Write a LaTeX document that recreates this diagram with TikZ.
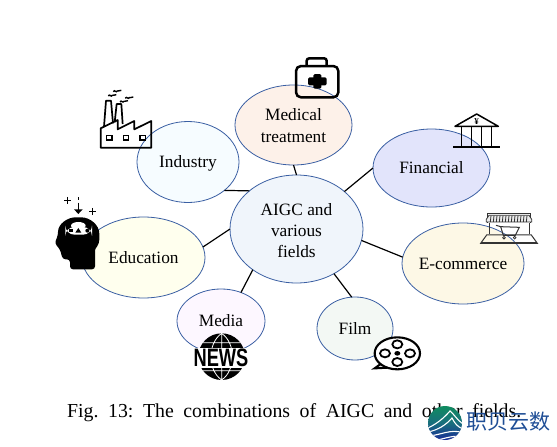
\documentclass[tikz,border=0pt]{standalone}
\usepackage{fontspec}
\setmainfont{Liberation Serif}
\newfontfamily\cjkfont{Noto Sans CJK SC}
\newfontfamily\newsfont{Liberation Sans}
\usetikzlibrary{shapes.geometric}
\definecolor{ringblue}{HTML}{3A5FA3}
\definecolor{logoblue}{HTML}{1F4E96}
\newcommand{\lb}{\rule[-3pt]{0pt}{17pt}}
\tikzset{
  bubble/.style={ellipse,draw=ringblue,line width=0.8pt,inner sep=-4pt,outer sep=0pt,align=center,
    font=\fontsize{17.3}{21}\selectfont},
  link/.style={line width=1.2pt,black},
  icon/.style={line width=1.7pt,black,line join=round},
  thinicon/.style={line width=0.8pt,black!80},
}
\begin{document}
\frenchspacing
\begin{tikzpicture}[x=1pt,y=-1pt]
\useasboundingbox (0,0) rectangle (557,447);
\fill[white] (0,0) rectangle (557,447);
% bubbles
\node[bubble,minimum width=117pt,minimum height=80pt,fill={rgb,255:red,253;green,241;blue,233}] (medical) at (293.5,125) {\rule{0pt}{14pt}Medical\\[1pt]treatment};
\node[bubble,fill={rgb,255:red,246;green,252;blue,255},minimum width=102pt,minimum height=81pt] (industry) at (188,162) {\lb Industry};
\node[bubble,fill={rgb,255:red,255;green,255;blue,238},minimum width=123pt,minimum height=81pt] (education) at (143.5,257.5) {\lb Education};
\node[bubble,fill={rgb,255:red,240;green,245;blue,251},minimum width=133pt,minimum height=108pt] (aigc) at (296.5,229) {\rule{0pt}{16pt}AIGC and\\various\\fields};
\node[bubble,fill={rgb,255:red,226;green,228;blue,251},minimum width=117pt,minimum height=78pt] (financial) at (431.5,168) {\lb Financial};
\node[bubble,fill={rgb,255:red,253;green,248;blue,230},minimum width=122pt,minimum height=81pt] (ecommerce) at (463,263.5) {\lb E-commerce};
\node[bubble,fill={rgb,255:red,253;green,247;blue,255},minimum width=88pt,minimum height=64pt] (media) at (221,321) {\lb Media};
\node[bubble,fill={rgb,255:red,243;green,248;blue,244},minimum width=76pt,minimum height=63pt] (film) at (355,328.5) {\lb Film};
% connectors
\draw[link] (industry.-38) -- (aigc.141.7);
\draw[link] (education.10) -- (aigc.180);
\draw[link] (medical.270) -- (aigc.90);
\draw[link] (financial.180) -- (aigc.38.6);
\draw[link] (ecommerce.174) -- (aigc.-10);
\draw[link] (media.55.9) -- (aigc.223.8);
\draw[link] (film.96) -- (aigc.-50);
% factory
\begin{scope}[shift={(50,40)},scale=1/3]
\draw[icon] (152,323) -- (152,265) -- (203,240) -- (203,268) -- (253,243) -- (253,268) -- (304,243) -- (304,323) -- cycle;
\draw[icon] (162,260) -- (168,182) -- (183,182) -- (189,250);
\draw[icon] (194,247) -- (200,192) -- (214,192) -- (218,252);
\foreach \wx in {170,220,270} \draw[line width=1.1pt] (\wx,286) rectangle ++(16,14);
\foreach \sx/\sy in {175/168,190/155,210/186,226/175}
  \draw[line width=1.4pt] (\sx,\sy) .. controls (\sx+4,\sy-8) and (\sx+8,\sy+5) .. (\sx+12,\sy-2) .. controls (\sx+15,\sy-8) and (\sx+19,\sy+3) .. (\sx+24,\sy-4);
\end{scope}
% head
\begin{scope}[shift={(50,40)},scale=1/3]
\fill[black,rounded corners=3pt] (60,688) -- (60,658) -- (38,658) -- (30,628) -- (14,610) -- (24,585)
  .. controls (24,550) and (55,532) .. (85,532) .. controls (120,532) and (148,555) .. (148,590)
  .. controls (148,615) and (135,625) .. (135,640) -- (135,688) -- cycle;
\fill[white,rounded corners=9pt] (46,561) rectangle (126,584);
\fill[white] (85,557) ellipse (22 and 11);
\fill[black] (56,566) rectangle (68,577);
\fill[black] (76,578) -- (85,564) -- (94,578) -- cycle;
\fill[black] (112,572) circle (6);
\draw[line width=1.6pt] (42,481) -- (62,481) (52,471) -- (52,491);
\draw[line width=1.6pt] (117,514) -- (137,514) (127,504) -- (127,524);
\draw[line width=1.6pt] (85,472) -- (85,480) (85,488) -- (85,512);
\fill[black] (72,508) -- (98,508) -- (85,522) -- cycle;
\end{scope}
% medical kit, bank and laptop
\begin{scope}[shift={(290,50)},scale=1/3]
\draw[line width=2.5pt,rounded corners=5pt] (18,48) rectangle (145,142);
\draw[line width=2.5pt,rounded corners=2.5pt] (50,48) -- (50,25) -- (110,25) -- (110,48);
\fill[black,rounded corners=1.5pt] (70,72) rectangle (94,116);
\fill[black,rounded corners=1.5pt] (54,82) rectangle (110,106);
% bank
\draw[line width=1.5pt,line join=round] (495,229) -- (560,192) -- (625,229) -- cycle;
\foreach \cx in {515,545,575,605} \draw[line width=1.5pt] (\cx,232) -- (\cx,291);
\draw[line width=1.5pt] (490,291) -- (630,291);
\node[font=\bfseries\fontsize{9}{9}\selectfont,inner sep=0pt] (yen) at (560,214) {¥};
% laptop
\draw[thinicon] (592,518) -- (592,490) -- (722,490) -- (722,518);
\draw[thinicon] (597,552) -- (597,518) (717,552) -- (717,518);
\draw[thinicon,fill=black!8] (589,508) -- (597,496) -- (717,496) -- (725,508) -- (725,516) -- (589,516) -- cycle;
\foreach \ax in {603,612,...,711} \draw[thinicon] (\ax,497) -- (\ax-2,516);
\draw[thinicon,line width=1pt] (572,580) -- (590,555) -- (724,555) -- (742,580) -- cycle;
\draw[thinicon,line width=1pt] (572,578) -- (742,578);
\draw[thinicon,line width=1pt] (618,526) -- (632,530) -- (640,556) -- (676,556) -- (688,532) -- (632,530);
\draw[thinicon] (642,563) circle (4) (674,563) circle (4);
\end{scope}
% news globe and film reel
\begin{scope}[shift={(170,280)},scale=1/3]
\fill[black] (155,230) circle (70);
\draw[white,line width=0.8pt] (155,160) -- (155,300)
  (155,160) .. controls (112,190) and (112,270) .. (155,300)
  (155,160) .. controls (198,190) and (198,270) .. (155,300)
  (98,188) -- (212,188) (98,272) -- (212,272);
\fill[white] (72,203) rectangle (235,264);
\node[inner sep=0pt,font=\newsfont\bfseries\fontsize{24}{24}\selectfont] (news) at (153,233) {\scalebox{0.76}[1.05]{NEWS}};
% reel
\draw[line width=2.1pt,fill=white] (682,220) ellipse (68 and 48);
\draw[line width=2.1pt] (632,252) -- (614,265) -- (652,263);
\draw[line width=1.8pt] (682,193) ellipse (15 and 12);
\draw[line width=1.8pt] (682,246) ellipse (15 and 12);
\draw[line width=1.8pt] (645,220) ellipse (15 and 12);
\draw[line width=1.8pt] (720,220) ellipse (15 and 12);
\fill[black] (682,220) ellipse (9 and 7);
\end{scope}
% caption
\node[anchor=base west,inner sep=0pt,font=\fontsize{19.8}{22}\selectfont] (caption) at (67,417) {\makebox[454pt][s]{Fig. 13: The combinations of AIGC and other fields.}};
% watermark
\shade[top color={rgb,255:red,15;green,140;blue,95},bottom color={rgb,255:red,25;green,45;blue,150},middle color={rgb,255:red,25;green,110;blue,125}] (445,423) circle (17);
\begin{scope}
\clip (445,423) circle (17);
\draw[white,line width=1.1pt] (428,428) .. controls (436,424) and (442,420) .. (450,411) .. controls (454,414) and (457,420) .. (463,424);
\draw[white,line width=1.1pt] (428,432) .. controls (438,430) and (446,425) .. (452,418) .. controls (455,424) and (458,427) .. (463,429);
\draw[white,line width=1.1pt] (428,436) .. controls (438,436) and (452,428) .. (463,433);
\draw[white,line width=1.1pt] (430,441) .. controls (440,441) and (452,434) .. (463,437);
\end{scope}
\node[anchor=west,inner sep=0pt,text=logoblue,font=\cjkfont\fontsize{21}{21}\selectfont] (logotext) at (466,422) {职贝云数};
\end{tikzpicture}
\end{document}
